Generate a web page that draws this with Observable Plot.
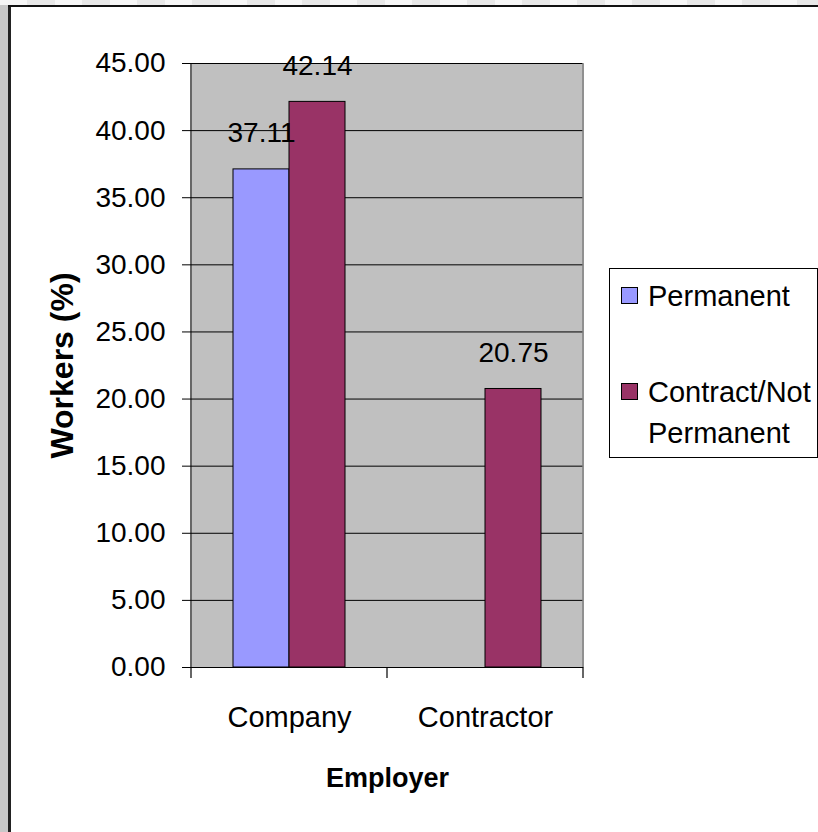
<!DOCTYPE html>
<html>
<head>
<meta charset="utf-8">
<script src="https://cdn.jsdelivr.net/npm/d3@7"></script>
<script src="https://cdn.jsdelivr.net/npm/@observablehq/plot@0.6"></script>
<style>
  html, body { margin: 0; padding: 0; background: #fff; }
  body { width: 818px; height: 832px; position: relative; overflow: hidden; font-family: "Liberation Sans", Arial, sans-serif; }
  #chart { position: absolute; left: 0; top: 0; }
  .deco { position: absolute; z-index: 5; }
  #legend { position: absolute; left: 609px; top: 268px; width: 207px; height: 188px; border: 1.5px solid #000; background: #fff; z-index: 4; }
  .sw { position: absolute; width: 15px; height: 15px; border: 1px solid #000; }
  .lt { position: absolute; left: 38px; font-size: 29px; line-height: 41px; color: #000; white-space: nowrap; }
</style>
</head>
<body>
<div class="deco" style="left:0;top:0;width:8px;height:832px;background:#c8c8c8;"></div>
<div class="deco" style="left:8px;top:0;width:2.5px;height:832px;background:#222;"></div>
<div class="deco" style="left:0;top:0;width:818px;height:5px;background:repeating-linear-gradient(90deg,#f6f6f6 0 27px,#e8e8e8 27px 55px);"></div>
<div class="deco" style="left:8px;top:5px;width:810px;height:2px;background:#111;"></div>
<div id="chart"></div>
<div id="legend"></div>
<script>
// ---- data ----
const categories = ["Company", "Contractor"];
const seriesNames = ["Permanent", "Contract/Not Permanent"];
const permanentValues = [37.11, null];      // no Permanent bar for Contractor
const contractValues = [42.14, 20.75];
const seriesColors = ["#9999ff", "#993366"];
const yTicks = [0, 5, 10, 15, 20, 25, 30, 35, 40, 45];
const xTitle = "Employer";
const yTitle = "Workers (%)";

const rows = [];
categories.forEach((c, i) => {
  if (permanentValues[i] != null) rows.push({employer: c, series: seriesNames[0], value: permanentValues[i]});
  if (contractValues[i] != null) rows.push({employer: c, series: seriesNames[1], value: contractValues[i]});
});

const chart = Plot.plot({
  width: 818,
  height: 832,
  marginLeft: 191,
  marginRight: 235,
  marginTop: 63,
  marginBottom: 165,
  style: {fontFamily: "'Liberation Sans', Arial, sans-serif", background: "transparent", color: "#000", overflow: "visible"},
  fx: {domain: categories, paddingInner: 0, paddingOuter: 0},
  x: {domain: seriesNames, paddingInner: 0, paddingOuter: 0.735, axis: null},
  y: {domain: [0, 45]},
  color: {domain: seriesNames, range: seriesColors},
  marks: [
    Plot.frame({fill: "#c0c0c0", stroke: "none", shapeRendering: "crispEdges"}),
    Plot.gridY(yTicks, {stroke: "#000", strokeOpacity: 1, strokeWidth: 1}),
    Plot.barY(rows, {fx: "employer", x: "series", y: "value", fill: "series", stroke: "#000", strokeWidth: 1}),
    Plot.ruleY([0], {stroke: "#000", strokeWidth: 1.2}),
    Plot.text(rows, {fx: "employer", x: "series", y: "value", text: d => d.value.toFixed(2), lineAnchor: "bottom", dy: -27, fontSize: 28, fill: "#000"}),
    Plot.axisY(yTicks, {tickFormat: d3.format(".2f"), tickSize: 9, tickPadding: 17, fontSize: 28, stroke: "#000", fill: "#000", label: null}),
    Plot.axisY([], {label: yTitle, labelAnchor: "center", labelOffset: 141, labelArrow: "none", fontSize: 32, fontWeight: "bold", fill: "#000", tickSize: 0}),
    Plot.axisFx({anchor: "bottom", tickSize: 0, tickPadding: 39, fontSize: 29, fill: "#000", label: null}),
    Plot.axisFx([], {anchor: "bottom", label: xTitle, labelAnchor: "center", labelOffset: 119, labelArrow: "none", fontSize: 27, fontWeight: "bold", fill: "#000", tickSize: 0})
  ]
});
document.getElementById("chart").appendChild(chart);

// axis lines and category boundary ticks, positioned with the plot's own scales
const fxs = chart.scale("fx"), ys = chart.scale("y");
const y0 = ys.apply(0), yTop = ys.apply(45);
const left = fxs.range[0], right = fxs.range[1];
const bounds = [left, ...categories.slice(1).map(c => fxs.apply(c)), right];
const svg = d3.select(chart);
const g = svg.append("g");
g.append("line").attr("x1", right).attr("x2", right).attr("y1", yTop).attr("y2", y0).attr("stroke", "#808080").attr("stroke-width", 1.5);
g.append("line").attr("x1", left).attr("x2", left).attr("y1", yTop).attr("y2", y0).attr("stroke", "#000").attr("stroke-width", 1.2);
g.selectAll("line.bt").data(bounds).join("line").attr("class", "bt")
  .attr("x1", d => d).attr("x2", d => d).attr("y1", y0).attr("y2", y0 + 11).attr("stroke", "#000").attr("stroke-width", 1.2);

// legend
const legend = document.getElementById("legend");
const legendItems = [
  {name: "Permanent", lines: ["Permanent"], color: seriesColors[0], top: 6.5, swTop: 18},
  {name: "Contract/Not Permanent", lines: ["Contract/Not", "Permanent"], color: seriesColors[1], top: 102.5, swTop: 114}
];
legendItems.forEach(it => {
  const sw = document.createElement("div");
  sw.className = "sw";
  sw.style.left = "11px";
  sw.style.top = it.swTop + "px";
  sw.style.background = it.color;
  legend.appendChild(sw);
  const t = document.createElement("div");
  t.className = "lt";
  t.style.top = it.top + "px";
  t.innerHTML = it.lines.join("<br>");
  legend.appendChild(t);
});
</script>
</body>
</html>
